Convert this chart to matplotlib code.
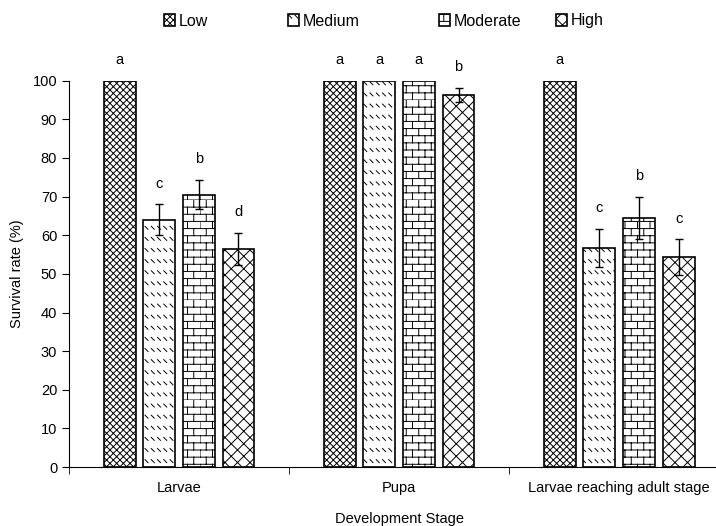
import numpy as np
import matplotlib
matplotlib.use('Agg')
import matplotlib.pyplot as plt
from matplotlib import hatch as mhatch
from matplotlib.path import Path
import warnings

warnings.filterwarnings('ignore')

stages = ['Larvae', 'Pupa', 'Larvae reaching adult stage']
levels = ['Low', 'Medium', 'Moderate', 'High']
low = [100, 100, 100]
medium = [64, 100, 56.7]
moderate = [70.5, 100, 64.5]
high = [56.5, 96.4, 54.3]
low_err = [0, 0, 0]
medium_err = [4, 0, 5]
moderate_err = [3.8, 0, 5.4]
high_err = [4.2, 1.8, 4.6]
letters = [['a', 'c', 'b', 'd'],
           ['a', 'a', 'a', 'b'],
           ['a', 'c', 'b', 'c']]


# brick pattern for 'b', short dash rows for 'd', diamond lattice for 'k'
class BrickHatch(mhatch.HatchPatternBase):
    def __init__(self, hatch, density):
        self.on = hatch.count('b') > 0
        self.rows = 14
        self.cols = 8
        self.num_vertices = (self.rows * 2 + self.rows * self.cols * 2) if self.on else 0

    def set_vertices_and_codes(self, vertices, codes):
        k = 0
        for i in range(self.rows):
            y0 = i / self.rows
            y1 = (i + 1) / self.rows
            vertices[k] = (0, y0); vertices[k + 1] = (1, y0)
            codes[k] = Path.MOVETO; codes[k + 1] = Path.LINETO
            k += 2
            for j in range(self.cols):
                x = (j + 0.5 * (i % 2)) / self.cols
                vertices[k] = (x, y0); vertices[k + 1] = (x, y1)
                codes[k] = Path.MOVETO; codes[k + 1] = Path.LINETO
                k += 2


class DashHatch(mhatch.HatchPatternBase):
    def __init__(self, hatch, density):
        self.on = hatch.count('d') > 0
        self.rows = 9
        self.cols = 16
        self.num_vertices = (self.rows * self.cols * 2) if self.on else 0

    def set_vertices_and_codes(self, vertices, codes):
        k = 0
        for i in range(self.rows):
            y = (i + 0.5) / self.rows
            for j in range(self.cols):
                x = (j + 0.2) / self.cols
                vertices[k] = (x, y + 0.015); vertices[k + 1] = (x + 0.03, y - 0.015)
                codes[k] = Path.MOVETO; codes[k + 1] = Path.LINETO
                k += 2


class DiamondHatch(mhatch.HatchPatternBase):
    def __init__(self, hatch, density):
        self.on = hatch.count('k') > 0
        self.n = 8
        self.num_vertices = (self.n * 2 + 1) * 4 if self.on else 0

    def set_vertices_and_codes(self, vertices, codes):
        k = 0
        for i in range(-self.n, self.n + 1):
            s = i / self.n
            # '/' lines then '\' lines, clipped by the tile anyway
            vertices[k] = (s, 0); vertices[k + 1] = (s + 1, 1)
            vertices[k + 2] = (s, 1); vertices[k + 3] = (s + 1, 0)
            codes[k] = Path.MOVETO; codes[k + 1] = Path.LINETO
            codes[k + 2] = Path.MOVETO; codes[k + 3] = Path.LINETO
            k += 4


mhatch._hatch_types.extend([BrickHatch, DashHatch, DiamondHatch])

plt.rcParams['font.family'] = ['Liberation Sans', 'DejaVu Sans']
plt.rcParams['hatch.linewidth'] = 0.7

fig = plt.figure(figsize=(7.16, 5.26), dpi=100)
ax = fig.add_axes([0.0964, 0.112, 0.922, 0.7347])

vals = [low, medium, moderate, high]
errs = [low_err, medium_err, moderate_err, high_err]
hatches = ['xxxxx', 'd', 'b', 'k']
x = np.arange(len(stages))
step = 0.18
width = 0.145

handles = []
for k in range(4):
    pos = x + (k - 1.5) * step
    bars = ax.bar(pos, vals[k], width, color='white', edgecolor='black', linewidth=1.2,
                  hatch=hatches[k], label=levels[k], zorder=2)
    handles.append(bars)
    e = np.array(errs[k], dtype=float)
    m = e > 0
    ax.errorbar(pos[m], np.array(vals[k])[m], yerr=e[m], fmt='none', ecolor='black',
                elinewidth=1, capsize=3, capthick=1, zorder=3)
    for i in range(len(stages)):
        ax.text(pos[i], vals[k][i] + errs[k][i] + 5.3, letters[i][k], ha='center', va='center',
                fontsize=10.5, clip_on=False)

ax.set_xlim(-0.5, 2.5)
ax.set_ylim(0, 100)
ax.set_yticks(np.arange(0, 101, 10))
ax.set_xticks(x)
ax.set_xticklabels(stages, fontsize=10.5)
ax.set_xticks([-0.5, 0.5, 1.5, 2.5], minor=True)
ax.tick_params(axis='x', which='major', length=0, pad=10)
ax.tick_params(axis='x', which='minor', length=5, direction='out')
ax.tick_params(axis='y', length=5, direction='out', labelsize=10.5)
ax.spines['top'].set_visible(False)
ax.spines['right'].set_visible(False)
ax.set_ylabel('Survival rate (%)', fontsize=10.5, labelpad=6)
ax.set_xlabel('Development Stage', fontsize=10.5, labelpad=12)

# one legend per entry, so the uneven spacing of the original can be kept
leg_x = [164, 288, 439, 556]
for k in range(4):
    fig.legend([handles[k]], [levels[k]], loc='center left',
               bbox_to_anchor=(leg_x[k] / 716, 1 - 21 / 526), frameon=False,
               fontsize=11.5, handlelength=0.7, handleheight=0.7, handletextpad=0.2,
               borderpad=0, borderaxespad=0)

fig.savefig('out.png', dpi=100)
